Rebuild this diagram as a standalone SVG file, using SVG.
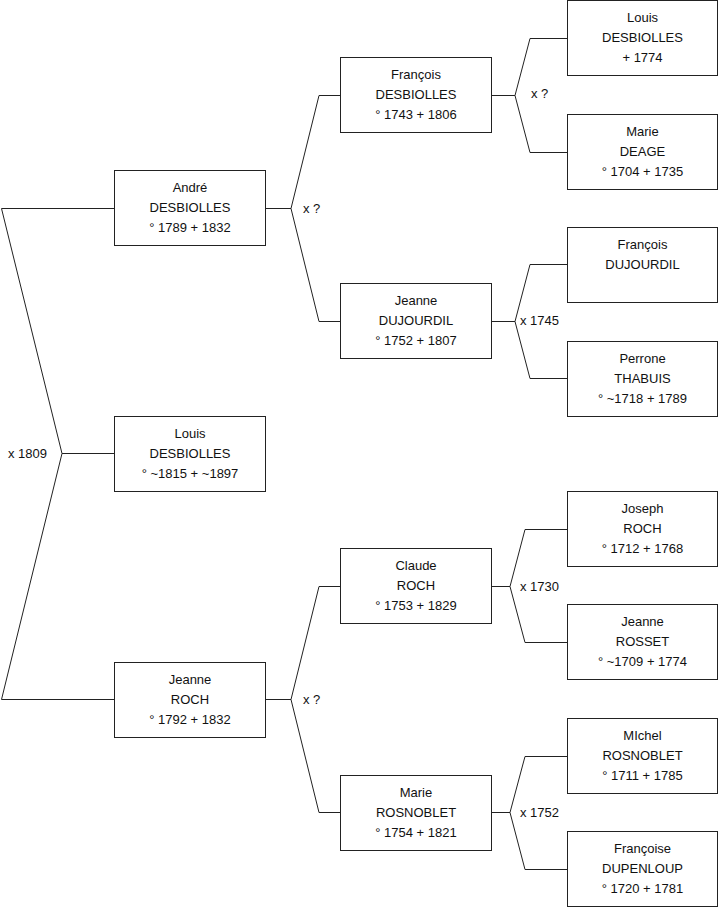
<svg xmlns="http://www.w3.org/2000/svg" width="719" height="908" viewBox="0 0 719 908">
<style>
.box{fill:#fff;stroke:#222;stroke-width:1}
.t{font-family:"Liberation Sans",Arial,sans-serif;font-size:13px;fill:#111;text-anchor:middle}
.l{font-family:"Liberation Sans",Arial,sans-serif;font-size:13px;fill:#111}
.c{fill:none;stroke:#222;stroke-width:1}
</style>
<rect width="719" height="908" fill="#fff"/>
<g id="connectors">
<path class="c" d="M114.5,208.5 H1.5 L62,453.5 H114.5 M114.5,699.5 H1.5 L62,453.5"/>
<path class="c" d="M265.5,208.5 H291 L319,95.5 H340.5 M291,208.5 L319,321.5 H340.5"/>
<path class="c" d="M265.5,699.5 H291 L319,586.5 H340.5 M291,699.5 L319,812.5 H340.5"/>
<path class="c" d="M491.5,95.5 H515 L530,38.5 H567.5 M515,95.5 L530,152.5 H567.5"/>
<path class="c" d="M491.5,321.5 H515 L530,264.5 H567.5 M515,321.5 L530,378.5 H567.5"/>
<path class="c" d="M491.5,586.5 H510 L525,529.5 H567.5 M510,586.5 L525,642.5 H567.5"/>
<path class="c" d="M491.5,812.5 H510 L525,756.5 H567.5 M510,812.5 L525,869.5 H567.5"/>
<text class="l" x="8" y="457.5">x 1809</text>
<text class="l" x="303" y="212.5">x ?</text>
<text class="l" x="303" y="703.5">x ?</text>
<text class="l" x="531" y="98">x ?</text>
<text class="l" x="520" y="325">x 1745</text>
<text class="l" x="520" y="590.5">x 1730</text>
<text class="l" x="520" y="816.5">x 1752</text>
</g>
<g id="andre"><rect class="box" x="114.5" y="170.5" width="151" height="75"/>
<text class="t" x="190" y="191.5">André</text><text class="t" x="190" y="211.5">DESBIOLLES</text><text class="t" x="190" y="231.5">° 1789 + 1832</text></g>
<g id="louis"><rect class="box" x="114.5" y="416.5" width="151" height="75"/>
<text class="t" x="190" y="437.5">Louis</text><text class="t" x="190" y="457.5">DESBIOLLES</text><text class="t" x="190" y="477.5">° ~1815 + ~1897</text></g>
<g id="jeanne-roch"><rect class="box" x="114.5" y="662.5" width="151" height="75"/>
<text class="t" x="190" y="683.5">Jeanne</text><text class="t" x="190" y="703.5">ROCH</text><text class="t" x="190" y="723.5">° 1792 + 1832</text></g>
<g id="francois-desbiolles"><rect class="box" x="340.5" y="57.5" width="151" height="75"/>
<text class="t" x="416" y="78.5">François</text><text class="t" x="416" y="98.5">DESBIOLLES</text><text class="t" x="416" y="118.5">° 1743 + 1806</text></g>
<g id="jeanne-dujourdil"><rect class="box" x="340.5" y="283.5" width="151" height="75"/>
<text class="t" x="416" y="304.5">Jeanne</text><text class="t" x="416" y="324.5">DUJOURDIL</text><text class="t" x="416" y="344.5">° 1752 + 1807</text></g>
<g id="claude-roch"><rect class="box" x="340.5" y="548.5" width="151" height="75"/>
<text class="t" x="416" y="569.5">Claude</text><text class="t" x="416" y="589.5">ROCH</text><text class="t" x="416" y="609.5">° 1753 + 1829</text></g>
<g id="marie-rosnoblet"><rect class="box" x="340.5" y="775.5" width="151" height="75"/>
<text class="t" x="416" y="796.5">Marie</text><text class="t" x="416" y="816.5">ROSNOBLET</text><text class="t" x="416" y="836.5">° 1754 + 1821</text></g>
<g id="louis-desbiolles"><rect class="box" x="567.5" y="0.5" width="150" height="75"/>
<text class="t" x="642.5" y="21.5">Louis</text><text class="t" x="642.5" y="41.5">DESBIOLLES</text><text class="t" x="642.5" y="61.5">+ 1774</text></g>
<g id="marie-deage"><rect class="box" x="567.5" y="114.5" width="150" height="75"/>
<text class="t" x="642.5" y="135.5">Marie</text><text class="t" x="642.5" y="155.5">DEAGE</text><text class="t" x="642.5" y="175.5">° 1704 + 1735</text></g>
<g id="francois-dujourdil"><rect class="box" x="567.5" y="227.5" width="150" height="75"/>
<text class="t" x="642.5" y="248.5">François</text><text class="t" x="642.5" y="268.5">DUJOURDIL</text></g>
<g id="perrone-thabuis"><rect class="box" x="567.5" y="341.5" width="150" height="75"/>
<text class="t" x="642.5" y="362.5">Perrone</text><text class="t" x="642.5" y="382.5">THABUIS</text><text class="t" x="642.5" y="402.5">° ~1718 + 1789</text></g>
<g id="joseph-roch"><rect class="box" x="567.5" y="491.5" width="150" height="75"/>
<text class="t" x="642.5" y="512.5">Joseph</text><text class="t" x="642.5" y="532.5">ROCH</text><text class="t" x="642.5" y="552.5">° 1712 + 1768</text></g>
<g id="jeanne-rosset"><rect class="box" x="567.5" y="604.5" width="150" height="75"/>
<text class="t" x="642.5" y="625.5">Jeanne</text><text class="t" x="642.5" y="645.5">ROSSET</text><text class="t" x="642.5" y="665.5">° ~1709 + 1774</text></g>
<g id="michel-rosnoblet"><rect class="box" x="567.5" y="718.5" width="150" height="75"/>
<text class="t" x="642.5" y="739.5">MIchel</text><text class="t" x="642.5" y="759.5">ROSNOBLET</text><text class="t" x="642.5" y="779.5">° 1711 + 1785</text></g>
<g id="francoise-dupenloup"><rect class="box" x="567.5" y="831.5" width="150" height="75"/>
<text class="t" x="642.5" y="852.5">Françoise</text><text class="t" x="642.5" y="872.5">DUPENLOUP</text><text class="t" x="642.5" y="892.5">° 1720 + 1781</text></g>
</svg>
